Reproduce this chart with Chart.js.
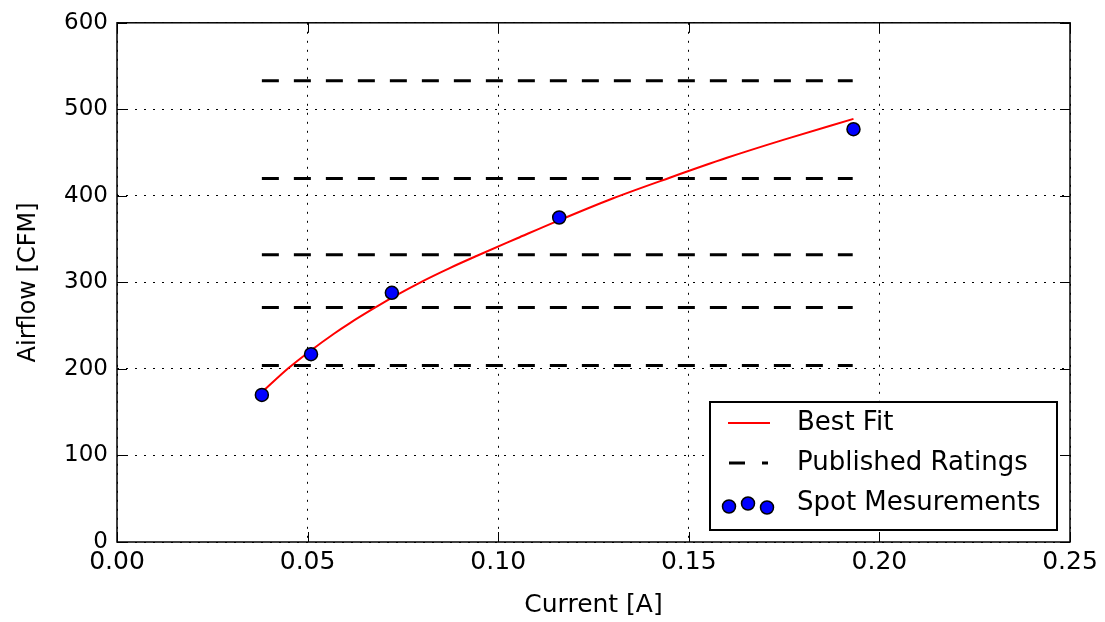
<!DOCTYPE html>
<html>
<head>
<meta charset="utf-8">
<script src="https://cdn.jsdelivr.net/npm/chart.js@4/dist/chart.umd.min.js"></script>
<style>
  html, body { margin: 0; padding: 0; background: #fff; }
  #wrap { width: 1105px; height: 622px; }
</style>
</head>
<body>
<div id="wrap"><canvas id="chart" width="1105" height="622"></canvas></div>
<script>
// Fitted airflow curve, current [A] -> airflow [CFM]
const fitCurrent = [0.038, 0.045, 0.0506, 0.057, 0.0611, 0.067, 0.0724, 0.080, 0.087, 0.0943, 0.105, 0.115, 0.130, 0.145, 0.160, 0.175, 0.1932];
const fitAirflow = [173, 201, 220.5, 241, 253, 269, 283, 301, 316, 330.5, 351, 370, 397, 421, 444, 465, 489];

// Spot measurements
const spotCurrent = [0.038, 0.0509, 0.0721, 0.116, 0.1932];
const spotAirflow = [170, 217, 288, 375, 477];

// Published fan speed ratings (CFM), drawn across the measured current range
const ratingLevels = [204, 271, 332, 420, 533];
const ratingSpan = [0.038, 0.193];

// Axis ticks
const xTicks = [0, 0.05, 0.10, 0.15, 0.20, 0.25];
const yTicks = [0, 100, 200, 300, 400, 500, 600];

const FONT = "'DejaVu Sans', 'Liberation Sans', sans-serif";

const fitSet = {
  label: 'Best Fit',
  type: 'line',
  data: fitCurrent.map((x, i) => ({ x, y: fitAirflow[i] })),
  borderColor: '#ff0000',
  borderWidth: 2,
  pointRadius: 0,
  fill: false,
  cubicInterpolationMode: 'monotone',
  order: 2
};

const ratingSets = ratingLevels.map(lvl => ({
  label: 'Published Ratings',
  type: 'line',
  data: ratingSpan.map(x => ({ x, y: lvl })),
  borderColor: '#000000',
  borderWidth: 3,
  borderDash: [17, 15],
  borderCapStyle: 'butt',
  pointRadius: 0,
  fill: false,
  order: 3
}));

const spotSet = {
  label: 'Spot Mesurements',
  type: 'scatter',
  data: spotCurrent.map((x, i) => ({ x, y: spotAirflow[i] })),
  backgroundColor: '#0000ff',
  borderColor: '#000000',
  borderWidth: 1.5,
  pointRadius: 6.5,
  pointHoverRadius: 6.5,
  order: 1
};

// Frame on all four sides with inward-pointing tick marks
const framePlugin = {
  id: 'frame',
  afterDatasetsDraw(chart) {
    const { ctx, chartArea: a, scales } = chart;
    const len = 10;
    ctx.save();
    ctx.strokeStyle = '#000';
    ctx.lineWidth = 1;
    xTicks.forEach(v => {
      const px = Math.round(scales.x.getPixelForValue(v)) + 0.5;
      ctx.beginPath();
      ctx.moveTo(px, a.bottom); ctx.lineTo(px, a.bottom - len);
      ctx.moveTo(px, a.top); ctx.lineTo(px, a.top + len);
      ctx.stroke();
    });
    yTicks.forEach(v => {
      const py = Math.round(scales.y.getPixelForValue(v)) + 0.5;
      ctx.beginPath();
      ctx.moveTo(a.left, py); ctx.lineTo(a.left + len, py);
      ctx.moveTo(a.right, py); ctx.lineTo(a.right - len, py);
      ctx.stroke();
    });
    ctx.lineWidth = 1.5;
    ctx.strokeRect(a.left, a.top, a.right - a.left, a.bottom - a.top);
    ctx.restore();
  }
};

// Boxed legend in the lower right of the plot area
const legendPlugin = {
  id: 'boxLegend',
  afterDraw(chart) {
    const { ctx, chartArea: a } = chart;
    const w = 347, h = 128;
    const right = a.right - 13, bottom = a.bottom - 12;
    const left = right - w, top = bottom - h;
    ctx.save();
    ctx.fillStyle = '#fff';
    ctx.fillRect(left, top, w, h);
    ctx.strokeStyle = '#000';
    ctx.lineWidth = 2;
    ctx.strokeRect(left, top, w, h);

    const rows = [top + 21, top + 61, top + 101];
    // Best Fit sample
    ctx.strokeStyle = fitSet.borderColor;
    ctx.lineWidth = fitSet.borderWidth;
    ctx.beginPath();
    ctx.moveTo(left + 18, rows[0]); ctx.lineTo(left + 60, rows[0]);
    ctx.stroke();
    // Published Ratings sample
    ctx.strokeStyle = '#000';
    ctx.lineWidth = 3;
    ctx.beginPath();
    ctx.moveTo(left + 19, rows[1]); ctx.lineTo(left + 35, rows[1]);
    ctx.moveTo(left + 52, rows[1]); ctx.lineTo(left + 58, rows[1]);
    ctx.stroke();
    // Spot Mesurements sample
    ctx.fillStyle = spotSet.backgroundColor;
    ctx.strokeStyle = spotSet.borderColor;
    ctx.lineWidth = spotSet.borderWidth;
    [[19, 3.5], [38, 0.5], [57, 4.5]].forEach(([dx, dy]) => {
      ctx.beginPath();
      ctx.arc(left + dx, rows[2] + dy, 6.5, 0, Math.PI * 2);
      ctx.fill();
      ctx.stroke();
    });

    ctx.fillStyle = '#000';
    ctx.font = '26px ' + FONT;
    ctx.textBaseline = 'middle';
    ctx.textAlign = 'left';
    const labels = [fitSet.label, ratingSets[0].label, spotSet.label];
    labels.forEach((t, i) => ctx.fillText(t, left + 87, rows[i]));
    ctx.restore();
  }
};

new Chart(document.getElementById('chart'), {
  type: 'line',
  data: { datasets: [fitSet, ...ratingSets, spotSet] },
  options: {
    responsive: false,
    animation: false,
    devicePixelRatio: 1,
    layout: { padding: { top: 22, right: 35, left: 0, bottom: 0 } },
    plugins: { legend: { display: false }, tooltip: { enabled: false } },
    scales: {
      x: {
        type: 'linear',
        min: 0, max: 0.25,
        afterBuildTicks: s => { s.ticks = xTicks.map(value => ({ value })); },
        afterFit: s => { s.height = 80; },
        ticks: {
          color: '#000',
          font: { family: FONT, size: 25 },
          padding: 5,
          maxRotation: 0,
          callback: v => Number(v).toFixed(2)
        },
        grid: { color: '#000', lineWidth: 1, drawTicks: false },
        border: { display: false, dash: [2, 7] },
        title: {
          display: true,
          text: 'Current [A]',
          color: '#000',
          font: { family: FONT, size: 25 },
          padding: { top: 0, bottom: 2 }
        }
      },
      y: {
        type: 'linear',
        min: 0, max: 600,
        afterBuildTicks: s => { s.ticks = yTicks.map(value => ({ value })); },
        afterFit: s => { s.width = 117; },
        ticks: {
          color: '#000',
          font: { family: FONT, size: 23 },
          padding: 9,
          callback: v => String(v)
        },
        grid: { color: '#000', lineWidth: 1, drawTicks: false },
        border: { display: false, dash: [2, 7] },
        title: {
          display: true,
          text: 'Airflow [CFM]',
          color: '#000',
          font: { family: FONT, size: 24 },
          padding: { top: 14, bottom: 0 }
        }
      }
    }
  },
  plugins: [framePlugin, legendPlugin]
});
</script>
</body>
</html>
